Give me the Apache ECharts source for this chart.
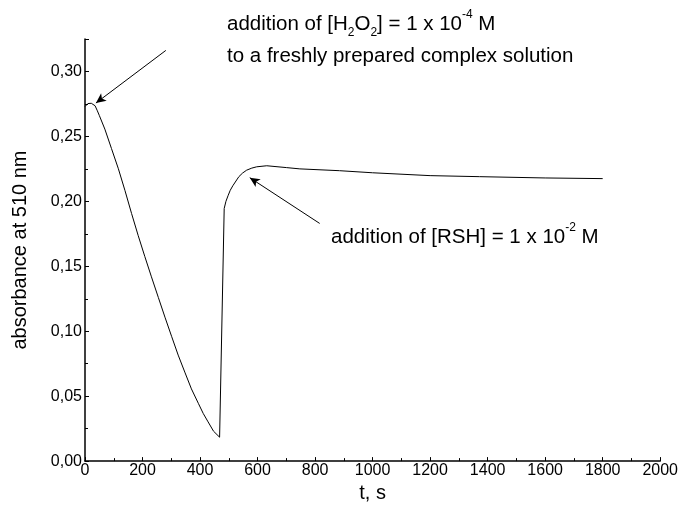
<!DOCTYPE html>
<html>
<head>
<meta charset="utf-8">
<script src="https://cdn.jsdelivr.net/npm/echarts@6/dist/echarts.min.js"></script>
<style>
  html, body { margin: 0; padding: 0; background: #fff; }
  #chart { width: 681px; height: 508px; }
</style>
</head>
<body>
<div id="chart"></div>
<script>
// time, s
var timeValues = [0, 5, 10, 16, 22, 28, 35, 42, 50, 69, 92, 116, 139, 162, 185, 208, 231, 255, 278, 301, 324, 347, 370, 394, 411, 428, 447, 468,
  484, 490, 498, 505, 514, 535, 548, 562, 580, 597, 632, 700, 747, 885, 1000, 1200, 1372, 1600, 1800]
// absorbance at 510 nm
var absorbance = [0.273, 0.2745, 0.2753, 0.2757, 0.2755, 0.2748, 0.2736, 0.2702, 0.266, 0.2556, 0.2407, 0.2251, 0.2083, 0.1906, 0.1736, 0.1575, 0.1419, 0.126, 0.1108, 0.0961, 0.0816, 0.0685, 0.0556, 0.0445, 0.0367, 0.0302, 0.023, 0.0184,
  0.1945, 0.2, 0.2047, 0.2085, 0.212, 0.219, 0.2218, 0.224, 0.2256, 0.2266, 0.2274, 0.226, 0.225, 0.2236, 0.222, 0.2198, 0.219, 0.218, 0.2175]

// arrows: [tail, head] in data coordinates
var arrowH2O2 = [[281, 0.3162], [38, 0.2757]]
var arrowRSH = [[816, 0.183], [573, 0.2182]]

var font = 'Liberation Sans, Arial, sans-serif'

var chart = echarts.init(document.getElementById('chart'))

var richStyle = {
  n: { fontSize: 20.5, lineHeight: 30, fontFamily: font, color: '#000' },
  sub: { fontSize: 12, lineHeight: 12, fontFamily: font, color: '#000', verticalAlign: 'bottom' },
  sup: { fontSize: 12, lineHeight: 16, fontFamily: font, color: '#000', verticalAlign: 'top' }
}

var option = {
  backgroundColor: '#fff',
  animation: false,
  grid: { left: 85, right: 20, top: 39, bottom: 44 },
  xAxis: {
    type: 'value',
    min: 0,
    max: 2000,
    interval: 200,
    name: 't, s',
    nameLocation: 'middle',
    nameGap: 21,
    nameTextStyle: { fontSize: 20, fontFamily: font, color: '#000' },
    axisLine: { onZero: false, lineStyle: { color: '#000', width: 1.5 } },
    axisTick: { inside: true, length: 4, lineStyle: { color: '#000', width: 1 } },
    minorTick: { show: true, splitNumber: 2, length: 3, lineStyle: { color: '#000', width: 1 } },
    axisLabel: {
      fontSize: 16, fontFamily: font, color: '#000', margin: 1,
      formatter: function (v) { return String(v) }
    },
    splitLine: { show: false }
  },
  yAxis: {
    type: 'value',
    min: 0,
    max: 0.325,
    interval: 0.05,
    name: 'absorbance at 510 nm',
    nameLocation: 'middle',
    nameGap: 55,
    nameTextStyle: { fontSize: 20, fontFamily: font, color: '#000' },
    axisLine: { show: true, onZero: false, lineStyle: { color: '#000', width: 1.5 } },
    axisTick: { show: true, inside: true, length: 4, lineStyle: { color: '#000', width: 1 } },
    minorTick: { show: true, splitNumber: 2, length: 3, lineStyle: { color: '#000', width: 1 } },
    axisLabel: {
      fontSize: 16, fontFamily: font, color: '#000', margin: 3, showMaxLabel: false,
      formatter: function (v) {
        if (Math.abs(v / 0.05 - Math.round(v / 0.05)) > 1e-6) return ''
        return v.toFixed(2).replace('.', ',')
      }
    },
    splitLine: { show: false }
  },
  series: [
    {
      type: 'line',
      data: timeValues.map(function (t, i) { return [t, absorbance[i]] }),
      showSymbol: false,
      symbol: 'none',
      smooth: false,
      lineStyle: { color: '#000', width: 1 },
      markLine: {
        silent: true,
        symbol: ['none', 'arrow'],
        symbolSize: [7, 10],
        label: { show: false },
        lineStyle: { color: '#000', width: 1, type: 'solid' },
        data: [
          [{ coord: arrowH2O2[0] }, { coord: arrowH2O2[1] }],
          [{ coord: arrowRSH[0] }, { coord: arrowRSH[1] }]
        ]
      }
    }
  ],
  graphic: [
    {
      type: 'text', x: 227, y: 24,
      style: {
        text: '{n|addition of [H}{sub|2}{n|O}{sub|2}{n|] = 1 x 10}{sup|-4}{n| M}',
        rich: richStyle, verticalAlign: 'middle'
      }
    },
    {
      type: 'text', x: 227, y: 56,
      style: {
        text: '{n|to a freshly prepared complex solution}',
        rich: richStyle, verticalAlign: 'middle'
      }
    },
    {
      type: 'text', x: 331, y: 237,
      style: {
        text: '{n|addition of [RSH] = 1 x 10}{sup|-2}{n| M}',
        rich: richStyle, verticalAlign: 'middle'
      }
    }
  ]
}

chart.setOption(option)
</script>
</body>
</html>
